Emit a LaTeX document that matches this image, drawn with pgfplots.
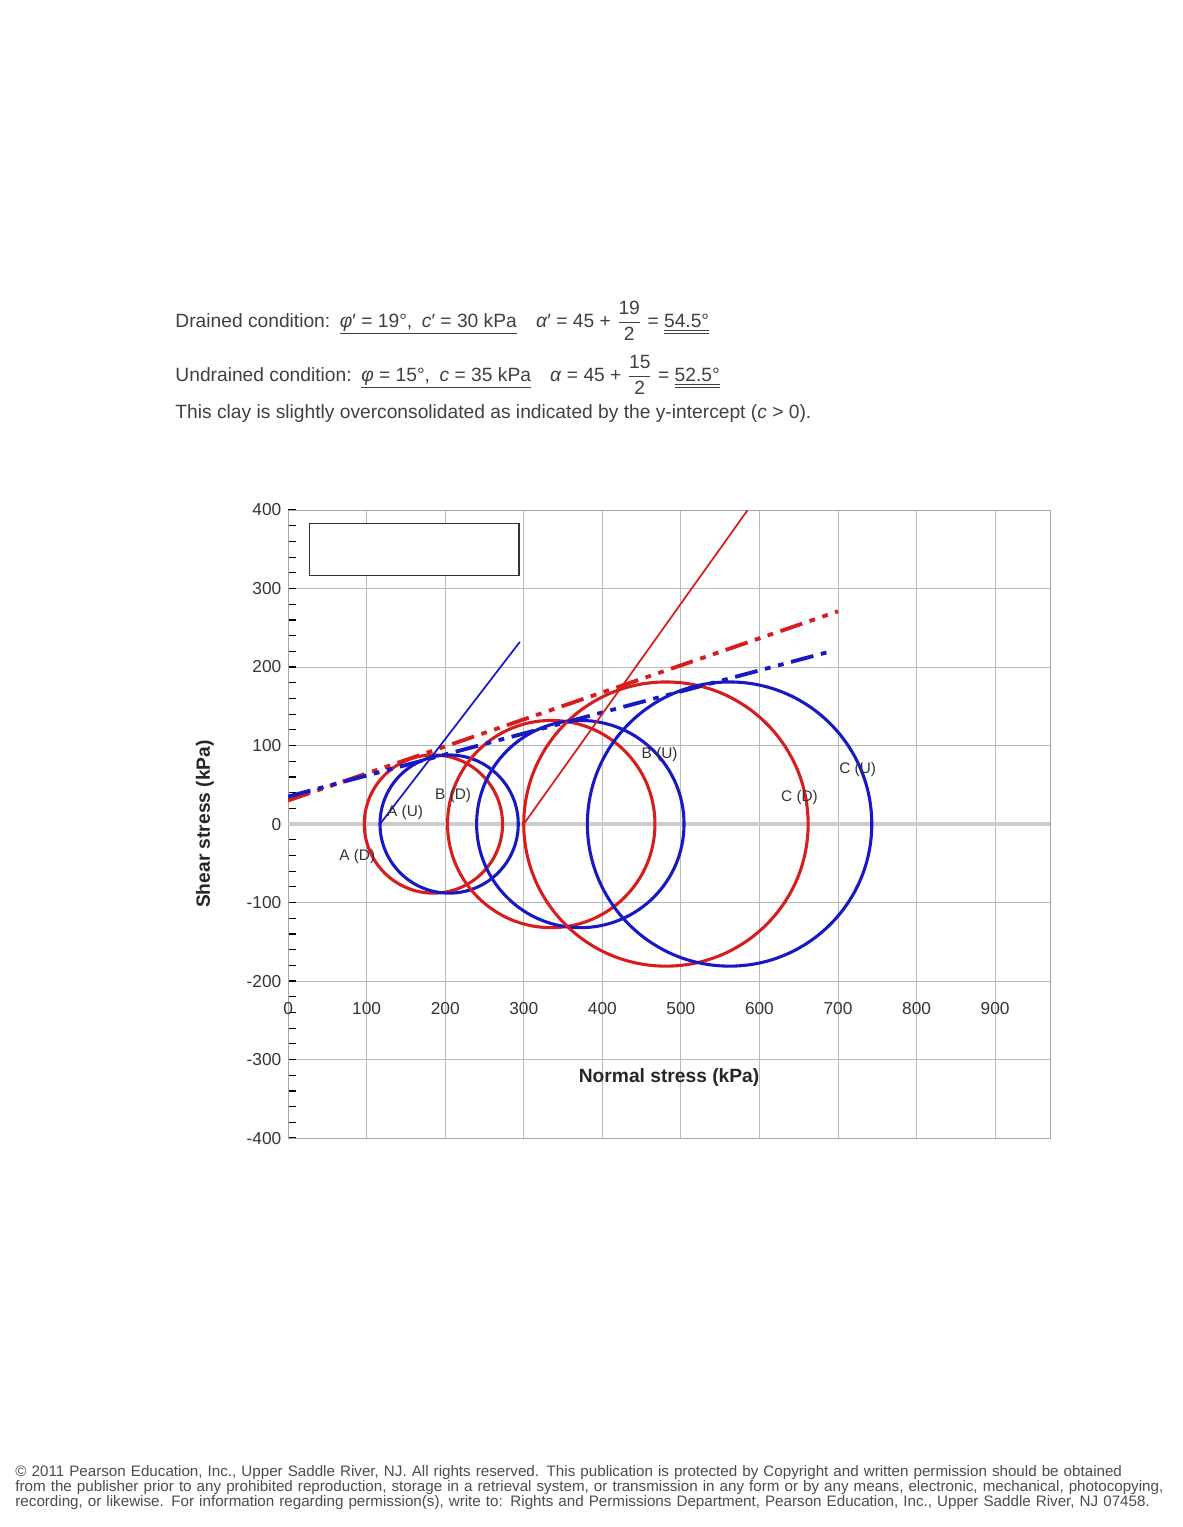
\documentclass[border=0pt]{standalone}
\usepackage{amsmath}
\usepackage{fontspec}
\setmainfont{Liberation Sans}
\usepackage{pgfplots}
\pgfplotsset{compat=1.18}

\definecolor{drained}{RGB}{215,30,30}
\definecolor{undrained}{RGB}{25,25,195}

\begin{document}
\begin{tikzpicture}
% page frame; origin = lower left corner of the axis box
\path (-149.4bp,-201.7bp) rectangle (462.6bp,590.2bp);

\begin{scope}[every node/.style={anchor=base west, inner sep=0pt, text=black!75, font=\fontsize{10}{12}\selectfont}]
\node at (-58.6bp,420.6bp) {Drained condition:\enspace\underline{\textit{φ}′ = 19°,\enspace \textit{c}′ = 30 kPa}\quad \textit{α}′ = 45 + $\dfrac{\text{19}}{\text{2}}$ = \underline{\underline{54.5°}}};
\node at (-58.6bp,392.6bp) {Undrained condition:\enspace\underline{\textit{φ} = 15°,\enspace \textit{c} = 35 kPa}\quad \textit{α} = 45 + $\dfrac{\text{15}}{\text{2}}$ = \underline{\underline{52.5°}}};
\node at (-58.6bp,373.4bp) {This clay is slightly overconsolidated as indicated by the y-intercept (\textit{c} > 0).};
\end{scope}

\node[anchor=north west, inner sep=0pt, text=black!70, text width=605bp, align=left,
      font=\fontsize{7.9}{7.8}\selectfont] at (-141.6bp,-169.6bp)
{© 2011 Pearson Education, Inc., Upper Saddle River, NJ. All rights reserved. This publication is protected by Copyright and written permission should be obtained\\
from the publisher prior to any prohibited reproduction, storage in a retrieval system, or transmission in any form or by any means, electronic, mechanical, photocopying,\\
recording, or likewise. For information regarding permission(s), write to: Rights and Permissions Department, Pearson Education, Inc., Upper Saddle River, NJ 07458.};

\begin{axis}[
    at={(0,0)}, anchor=south west,
    scale only axis,
    width=395.2bp, height=325.7bp,
    xmin=0, xmax=970, ymin=-400, ymax=400,
    xtick={0,100,...,900},
    ytick={-400,-300,...,400},
    minor y tick num=4,
    ytick pos=left,
    grid=major,
    grid style={gray!55, line width=0.4pt},
    axis line style={gray!70, line width=0.5pt},
    tick align=inside,
    xtick style={draw=none},
    ytick style={black, line width=0.6pt},
    major tick length=4bp, minor tick length=4bp,
    ticklabel style={font=\fontsize{9}{10}\selectfont, text=black!80},
    /pgf/number format/assume math mode=true,
    xticklabel style={anchor=center, yshift=67.4bp},
    xlabel={Normal stress (kPa)},
    xlabel style={at={(axis description cs:0.5,0.097)}, anchor=center,
                  font=\fontsize{10}{12}\selectfont\bfseries, text=black!85},
    ylabel={Shear stress (kPa)},
    ylabel style={at={(axis description cs:-0.109,0.5)}, anchor=center,
                  font=\fontsize{10}{12}\selectfont\bfseries, text=black!85},
]

% sigma axis
\addplot[gray!40, line width=2bp] coordinates {(0,0) (970,0)};

% Mohr circles at failure: centre, radius (kPa)
\draw[drained,   line width=1.6bp] (axis cs:185,0) circle[radius=88];
\draw[undrained, line width=1.6bp] (axis cs:205,0) circle[radius=88];
\draw[drained,   line width=1.6bp] (axis cs:335,0) circle[radius=132];
\draw[undrained, line width=1.6bp] (axis cs:372,0) circle[radius=132];
\draw[drained,   line width=1.6bp] (axis cs:481,0) circle[radius=181];
\draw[undrained, line width=1.6bp] (axis cs:562,0) circle[radius=181];

% failure envelopes
\addplot[drained, line width=2bp,
         dash pattern=on 12bp off 4bp on 3bp off 4bp on 3bp off 4bp]
    coordinates {(0,30) (700,271)};
\addplot[undrained, line width=2bp,
         dash pattern=on 12bp off 4bp on 3bp off 4bp on 3bp off 4bp]
    coordinates {(0,35) (687,219)};

% failure planes from the pole
\addplot[drained, line width=0.9bp] coordinates {(300,0) (585,400)};
\addplot[undrained, line width=0.9bp] coordinates {(117,0) (295,232)};

% empty legend frame
\draw[black!80, fill=white, line width=0.6bp]
    (rel axis cs:0.0276,0.896) rectangle (rel axis cs:0.303,0.979);

% circle labels
\begin{scope}[every node/.style={font=\fontsize{8}{9}\selectfont, text=black!80}]
\node at (axis cs:88,-42)  {A (D)};
\node at (axis cs:149,15)  {A (U)};
\node at (axis cs:210,36)  {B (D)};
\node at (axis cs:473,89)  {B (U)};
\node at (axis cs:651,34)  {C (D)};
\node at (axis cs:725,70)  {C (U)};
\end{scope}
\end{axis}
\end{tikzpicture}
\end{document}
